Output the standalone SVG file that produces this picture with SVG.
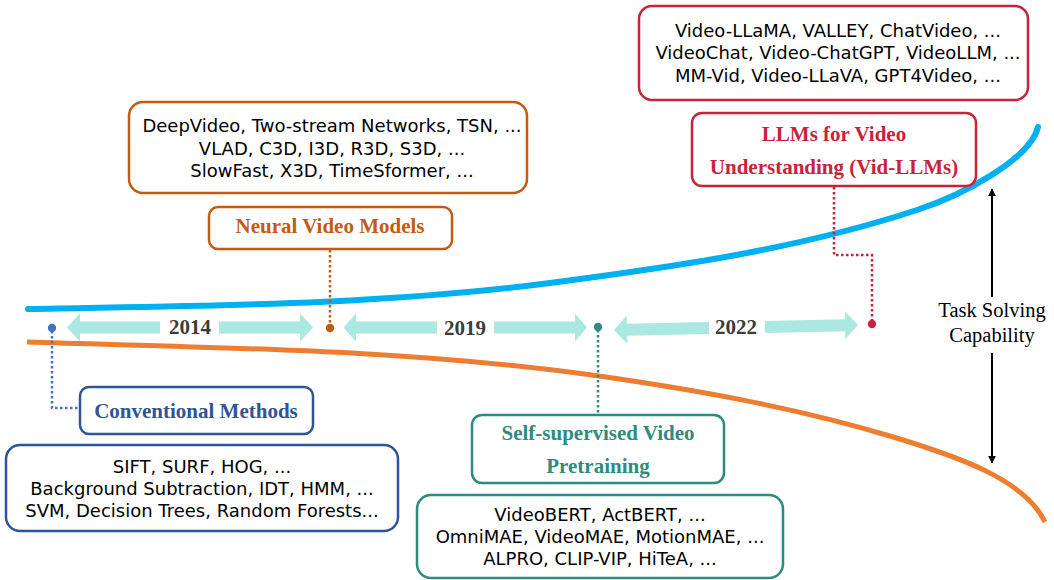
<svg xmlns="http://www.w3.org/2000/svg" width="1054" height="580" viewBox="0 0 1054 580">
<style>
.box{fill:#fff;stroke-width:2.5}
.txt{font-family:"DejaVu Sans","Noto Sans",sans-serif;font-size:18px;fill:#000;text-anchor:middle}
.lbl{font-family:"Liberation Serif","Times New Roman",serif;font-size:21px;font-weight:bold;text-anchor:middle}
.yr{font-family:"Liberation Serif","Times New Roman",serif;font-size:21px;font-weight:bold;fill:#3c3c3c;text-anchor:middle}
.cap{font-family:"Liberation Serif","Times New Roman",serif;font-size:20.5px;fill:#000;text-anchor:middle}
.arr{fill:#aae8e1}
.dot{fill:none;stroke-width:2.5;stroke-dasharray:2.5 2.5}
</style>
<defs>
<marker id="ah" viewBox="0 0 10 10" refX="9" refY="5" markerWidth="8" markerHeight="10" markerUnits="userSpaceOnUse" orient="auto">
<path d="M0,0 L10,5 L0,10 z" fill="#000"/>
</marker>
</defs>
<rect width="1054" height="580" fill="#fff"/>
<g id="curves">
<path d="M28,309 C202,305.5 376,305.6 550,283 C672,267 795,250 917,210 C960,196 1030,160 1038,127" fill="none" stroke="#00b0f0" stroke-width="6" stroke-linecap="round"/>
<path d="M27,342 C218,348 408,349 599,376 C696,390 793,407 890,436 C960,457 1025,480 1045,522" fill="none" stroke="#ed7d31" stroke-width="5"/>
</g>
<g id="timeline">
<polygon class="arr" points="67,327.5 80,313.5 80,321.5 160,321.5 160,333.5 80,333.5 80,341.5"/>
<polygon class="arr" points="313,327.5 300,313.5 300,321.5 219,321.5 219,333.5 300,333.5 300,341.5"/>
<text class="yr" x="190" y="334">2014</text>
<polygon class="arr" points="343.5,327.5 356,313.5 356,321.5 437,321.5 437,333.5 356,333.5 356,341.5"/>
<polygon class="arr" points="587,327.5 575,313.5 575,321.5 494,321.5 494,333.5 575,333.5 575,341.5"/>
<text class="yr" x="465" y="335">2019</text>
<g transform="rotate(-1.2 736 327)">
<polygon class="arr" points="614,327.5 627,313.5 627,321.5 709,321.5 709,333.5 627,333.5 627,341.5"/>
<polygon class="arr" points="858,327.5 845,313.5 845,321.5 765,321.5 765,333.5 845,333.5 845,341.5"/>
</g>
<text class="yr" x="736" y="334">2022</text>
</g>
<g id="connectors">
<polyline class="dot" stroke="#4472c4" points="52,331 52,408 80,408"/>
<polyline class="dot" stroke="#c55a11" points="330,250 330,325"/>
<polyline class="dot" stroke="#2e8b7e" points="598,330 598,415"/>
<polyline class="dot" stroke="#c8233a" points="834,187 834,255 872,255 872,322"/>
<line x1="992" y1="297" x2="992" y2="189" stroke="#000" stroke-width="2" marker-end="url(#ah)"/>
<line x1="992" y1="353" x2="992" y2="463" stroke="#000" stroke-width="2" marker-end="url(#ah)"/>
</g>
<g id="dots">
<circle cx="52" cy="328" r="4.2" fill="#4472c4"/>
<circle cx="330" cy="328" r="4.2" fill="#c55a11"/>
<circle cx="598" cy="327" r="4.2" fill="#2e8b7e"/>
<circle cx="872" cy="324" r="4.2" fill="#c8233a"/>
</g>
<g id="conventional">
<rect class="box" x="80" y="387" width="233" height="47" rx="9" stroke="#2f5597"/>
<text class="lbl" x="196" y="418" fill="#2f5597">Conventional Methods</text>
</g>
<g id="conventional-list">
<rect class="box" x="6" y="445" width="392" height="86" rx="14" stroke="#2f5597"/>
<text class="txt" x="202" y="473">SIFT, SURF, HOG, ...</text>
<text class="txt" x="202" y="495">Background Subtraction, IDT, HMM, ...</text>
<text class="txt" x="202" y="517">SVM, Decision Trees, Random Forests...</text>
</g>
<g id="neural-list">
<rect class="box" x="129" y="102" width="398" height="91" rx="14" stroke="#c55a11"/>
<text class="txt" x="332" y="132">DeepVideo, Two-stream Networks, TSN, ...</text>
<text class="txt" x="332" y="155">VLAD, C3D, I3D, R3D, S3D, ...</text>
<text class="txt" x="332" y="177">SlowFast, X3D, TimeSformer, ...</text>
</g>
<g id="neural">
<rect class="box" x="209" y="207" width="243" height="42" rx="9" stroke="#c55a11"/>
<text class="lbl" x="330" y="233" fill="#c55a11">Neural Video Models</text>
</g>
<g id="llm-list">
<rect class="box" x="639" y="6" width="389" height="94" rx="13" stroke="#c8233a"/>
<text class="txt" x="838" y="37">Video-LLaMA, VALLEY, ChatVideo, ...</text>
<text class="txt" x="838" y="59">VideoChat, Video-ChatGPT, VideoLLM, ...</text>
<text class="txt" x="838" y="82">MM-Vid, Video-LLaVA, GPT4Video, ...</text>
</g>
<g id="llm">
<rect class="box" x="692" y="113" width="284" height="73" rx="10" stroke="#c8233a"/>
<text class="lbl" x="834" y="141" fill="#c8233a">LLMs for Video</text>
<text class="lbl" x="834" y="174" fill="#c8233a">Understanding (Vid-LLMs)</text>
</g>
<g id="ssl">
<rect class="box" x="472" y="415" width="252" height="68" rx="10" stroke="#2e8b7e"/>
<text class="lbl" x="598" y="440" fill="#2e8b7e">Self-supervised Video</text>
<text class="lbl" x="598" y="473" fill="#2e8b7e">Pretraining</text>
</g>
<g id="ssl-list">
<rect class="box" x="417" y="495" width="366" height="83" rx="14" stroke="#2e8b7e"/>
<text class="txt" x="600" y="521">VideoBERT, ActBERT, ...</text>
<text class="txt" x="600" y="543">OmniMAE, VideoMAE, MotionMAE, ...</text>
<text class="txt" x="600" y="565">ALPRO, CLIP-VIP, HiTeA, ...</text>
</g>
<g id="capability">
<text class="cap" x="992" y="317">Task Solving</text>
<text class="cap" x="992" y="342">Capability</text>
</g>
</svg>
